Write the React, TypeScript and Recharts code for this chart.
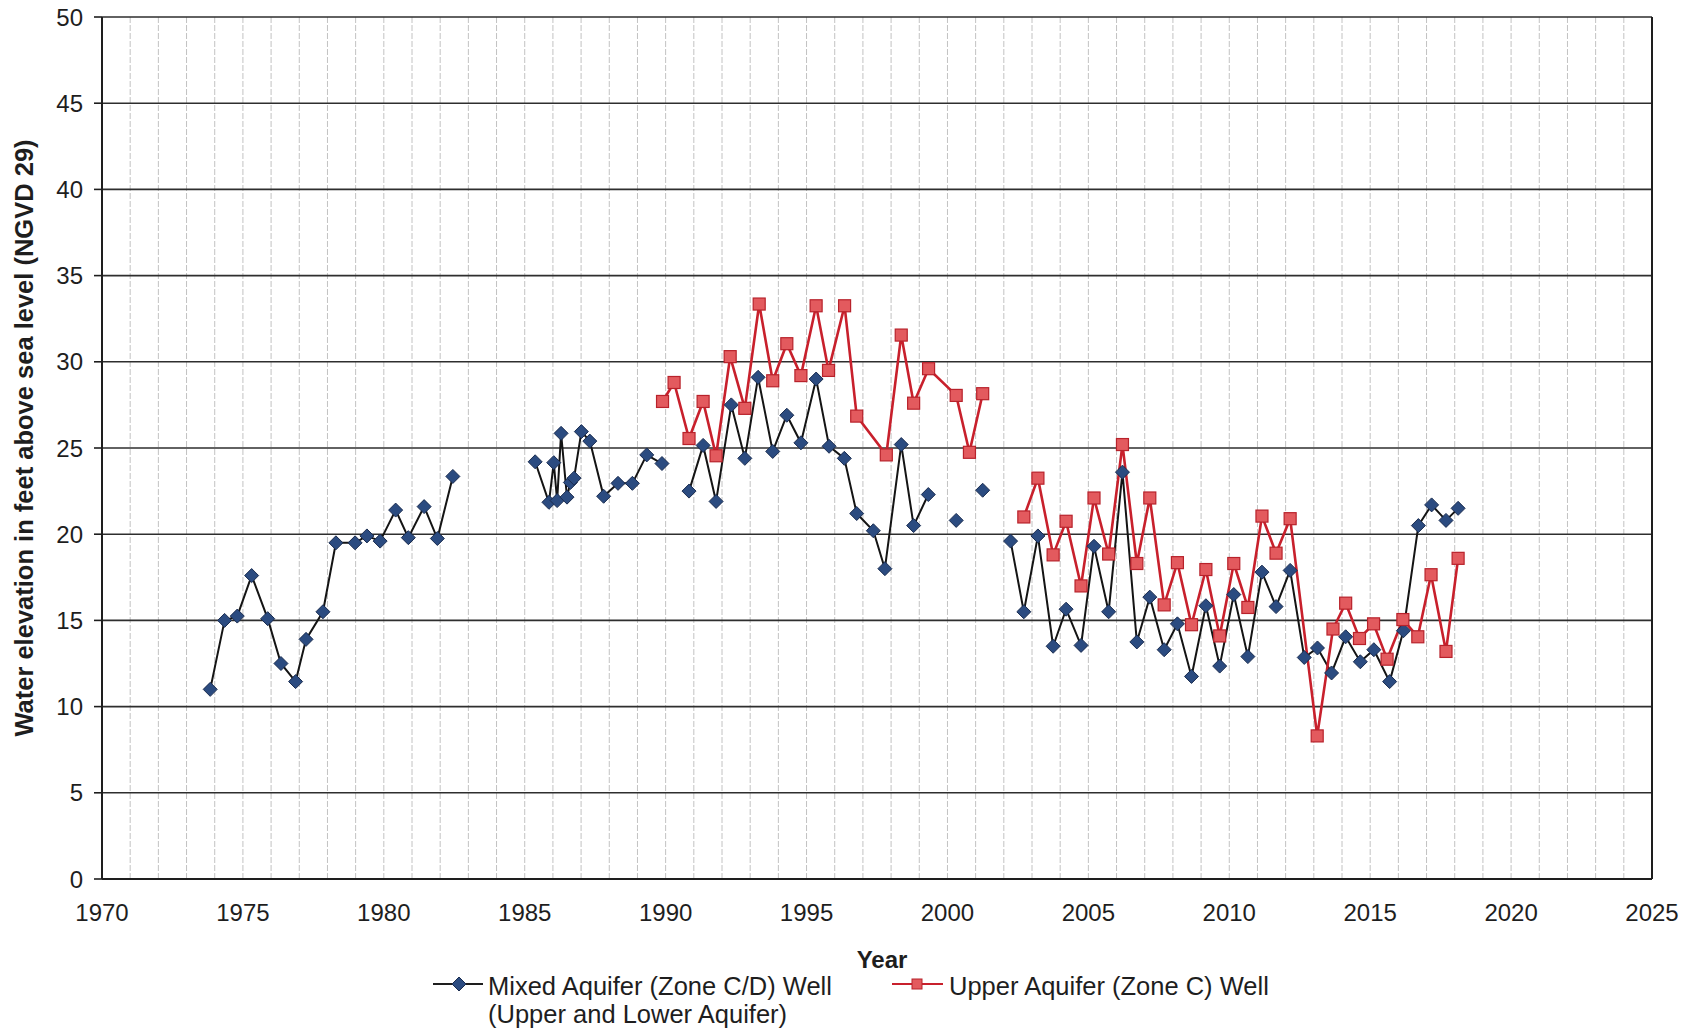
import { CartesianGrid, Label, Line, LineChart, ReferenceLine, XAxis, YAxis } from "recharts";

const FONT = '"Liberation Sans", Arial, sans-serif';

// Mixed aquifer (Zone C/D) well, null marks a break in the record
const MIXED_YEARS = [
  1973.84, 1974.35, 1974.8, 1975.31, 1975.88, 1976.35, 1976.87, 1977.24, 1977.84, 1978.3, 1978.98, 1979.4, 1979.87,
  1980.42, 1980.87, 1981.43, 1981.9, 1982.45, 1984.0, 1985.37, 1985.86, 1986.03, 1986.15, 1986.29, 1986.5, 1986.62,
  1986.75, 1987.01, 1987.31, 1987.8, 1988.31, 1988.82, 1989.33, 1989.87, 1990.4, 1990.83, 1991.33, 1991.79, 1992.33,
  1992.81, 1993.28, 1993.8, 1994.3, 1994.8, 1995.34, 1995.8, 1996.34, 1996.78, 1997.37, 1997.78, 1998.36, 1998.8,
  1999.32, 1999.8, 2000.31, 2000.8, 2001.25, 2001.75, 2002.24, 2002.71, 2003.21, 2003.75, 2004.21, 2004.74, 2005.2,
  2005.72, 2006.21, 2006.72, 2007.18, 2007.69, 2008.16, 2008.66, 2009.17, 2009.66, 2010.16, 2010.66, 2011.16, 2011.66,
  2012.16, 2012.66, 2013.13, 2013.63, 2014.13, 2014.65, 2015.13, 2015.69, 2016.18, 2016.71, 2017.18, 2017.69, 2018.12,
];
const MIXED_LEVELS = [
  11.0, 15.0, 15.25, 17.6, 15.1, 12.5, 11.45, 13.9, 15.5, 19.5, 19.5, 19.9, 19.6,
  21.4, 19.8, 21.6, 19.75, 23.35, null, 24.2, 21.85, 24.15, 21.95, 25.85, 22.15, 23.0,
  23.25, 25.95, 25.4, 22.2, 22.95, 22.95, 24.6, 24.1, null, 22.5, 25.15, 21.9, 27.5,
  24.4, 29.1, 24.8, 26.9, 25.3, 29.0, 25.1, 24.4, 21.2, 20.2, 18.0, 25.2, 20.5,
  22.3, null, 20.8, null, 22.55, null, 19.6, 15.5, 19.9, 13.5, 15.65, 13.55, 19.3,
  15.5, 23.6, 13.75, 16.35, 13.3, 14.8, 11.75, 15.85, 12.35, 16.5, 12.9, 17.8, 15.8,
  17.9, 12.85, 13.4, 11.95, 14.05, 12.6, 13.3, 11.45, 14.4, 20.5, 21.7, 20.8, 21.5,
];

// Upper aquifer (Zone C) well
const UPPER_YEARS = [
  1989.89, 1990.3, 1990.83, 1991.33, 1991.79, 1992.29, 1992.81, 1993.32, 1993.8, 1994.3, 1994.8, 1995.34, 1995.78,
  1996.35, 1996.78, 1997.83, 1998.36, 1998.8, 1999.33, 2000.31, 2000.78, 2001.25, 2002.0, 2002.71, 2003.21, 2003.75,
  2004.21, 2004.74, 2005.2, 2005.72, 2006.21, 2006.72, 2007.18, 2007.69, 2008.16, 2008.66, 2009.17, 2009.66, 2010.16,
  2010.66, 2011.16, 2011.66, 2012.16, 2013.12, 2013.68, 2014.13, 2014.62, 2015.12, 2015.6, 2016.16, 2016.69, 2017.16,
  2017.69, 2018.12,
];
const UPPER_LEVELS = [
  27.7, 28.8, 25.55, 27.7, 24.55, 30.3, 27.3, 33.35, 28.9, 31.05, 29.2, 33.25, 29.5,
  33.25, 26.85, 24.6, 31.55, 27.6, 29.6, 28.05, 24.75, 28.15, null, 21.0, 23.25, 18.8,
  20.75, 17.0, 22.1, 18.85, 25.2, 18.3, 22.1, 15.9, 18.35, 14.75, 17.95, 14.1, 18.3,
  15.75, 21.05, 18.9, 20.9, 8.3, 14.5, 16.0, 13.95, 14.8, 12.75, 15.05, 14.05, 17.65,
  13.2, 18.6,
];

const X_LABELS = [1970, 1975, 1980, 1985, 1990, 1995, 2000, 2005, 2010, 2015, 2020, 2025];
const Y_TICKS = [0, 5, 10, 15, 20, 25, 30, 35, 40, 45, 50];
const GRID_YEARS = Array.from({ length: 56 }, (_, i) => 1970 + i);

const mixed = MIXED_YEARS.map((year, i) => ({ year, level: MIXED_LEVELS[i] }));
const upper = UPPER_YEARS.map((year, i) => ({ year, level: UPPER_LEVELS[i] }));

const BLUE_FILL = "#2b4b80";
const BLUE_EDGE = "#1a2c4f";
const RED_LINE = "#c8202c";
const RED_FILL = "#e35a5e";

const tickStyle = { fill: "#1e1e1e", fontFamily: FONT, fontSize: 24 };

function Diamond(props: any) {
  const { cx, cy, index, payload } = props;
  if (payload?.level == null || cx == null || cy == null) return <g key={`m-${index}`} />;
  const r = 7;
  return (
    <polygon
      key={`m-${index}`}
      points={`${cx},${cy - r} ${cx + r},${cy} ${cx},${cy + r} ${cx - r},${cy}`}
      fill={BLUE_FILL}
      stroke={BLUE_EDGE}
      strokeWidth={1}
    />
  );
}

function Square(props: any) {
  const { cx, cy, index, payload } = props;
  if (payload?.level == null || cx == null || cy == null) return <g key={`u-${index}`} />;
  const s = 12;
  return (
    <rect key={`u-${index}`} x={cx - s / 2} y={cy - s / 2} width={s} height={s} fill={RED_FILL} stroke="#b8222b" strokeWidth={1.2} />
  );
}

function ChartLegend() {
  return (
    <svg width={1691} height={1036} style={{ position: "absolute", left: 0, top: 0, pointerEvents: "none" }}>
      <g fontFamily={FONT} fontSize={25.5} fill="#1e1e1e">
        <line x1={433} y1={984} x2={483} y2={984} stroke="#1e1e1e" strokeWidth={2} />
        <polygon points="459,977 466,984 459,991 452,984" fill={BLUE_FILL} stroke={BLUE_EDGE} />
        <text x={488} y={995}>Mixed Aquifer (Zone C/D) Well</text>
        <text x={488} y={1023}>(Upper and Lower Aquifer)</text>
        <line x1={892} y1={984} x2={943} y2={984} stroke={RED_LINE} strokeWidth={2.2} />
        <rect x={912} y={979} width={10} height={10} fill={RED_FILL} stroke="#b8222b" />
        <text x={949} y={995}>Upper Aquifer (Zone C) Well</text>
      </g>
    </svg>
  );
}

export default function App() {
  return (
    <div style={{ position: "absolute", left: 0, top: 0, width: 1691, height: 1036, background: "#fff" }}>
      <LineChart width={1691} height={1036} margin={{ top: 17, right: 39, bottom: 0, left: 0 }}>
        <CartesianGrid horizontal={false} verticalValues={GRID_YEARS} stroke="#c2c2c2" strokeDasharray="6 2" strokeWidth={1} />
        <CartesianGrid vertical={false} stroke="#2e2e2e" strokeWidth={1.6} />
        <XAxis
          type="number"
          dataKey="year"
          domain={[1970, 2025]}
          ticks={X_LABELS}
          allowDataOverflow
          interval={0}
          tick={tickStyle}
          tickLine={false}
          tickSize={0}
          tickMargin={25}
          axisLine={{ stroke: "#1e1e1e", strokeWidth: 2 }}
          height={157}
        >
          <Label
            content={() => (
              <text x={882} y={968} textAnchor="middle" fontFamily={FONT} fontSize={24} fontWeight="bold" fill="#1e1e1e">
                Year
              </text>
            )}
          />
        </XAxis>
        <YAxis
          type="number"
          domain={[0, 50]}
          ticks={Y_TICKS}
          interval={0}
          width={102}
          tick={tickStyle}
          tickSize={8}
          tickMargin={11}
          tickLine={{ stroke: "#1e1e1e", strokeWidth: 1.6 }}
          axisLine={{ stroke: "#1e1e1e", strokeWidth: 2 }}
        >
          <Label
            content={() => (
              <text
                x={24}
                y={438}
                transform="rotate(-90, 24, 438)"
                textAnchor="middle"
                dominantBaseline="central"
                fontFamily={FONT}
                fontSize={25.5}
                fontWeight="bold"
                fill="#1e1e1e"
              >
                Water elevation in feet above sea level (NGVD 29)
              </text>
            )}
          />
        </YAxis>
        <ReferenceLine x={2025} stroke="#1e1e1e" strokeWidth={2} />
        <Line
          data={mixed}
          dataKey="level"
          stroke="#141414"
          strokeWidth={2}
          dot={Diamond}
          activeDot={false}
          connectNulls={false}
          isAnimationActive={false}
        />
        <Line
          data={upper}
          dataKey="level"
          stroke={RED_LINE}
          strokeWidth={2.6}
          dot={Square}
          activeDot={false}
          connectNulls={false}
          isAnimationActive={false}
        />
      </LineChart>
      <ChartLegend />
    </div>
  );
}
